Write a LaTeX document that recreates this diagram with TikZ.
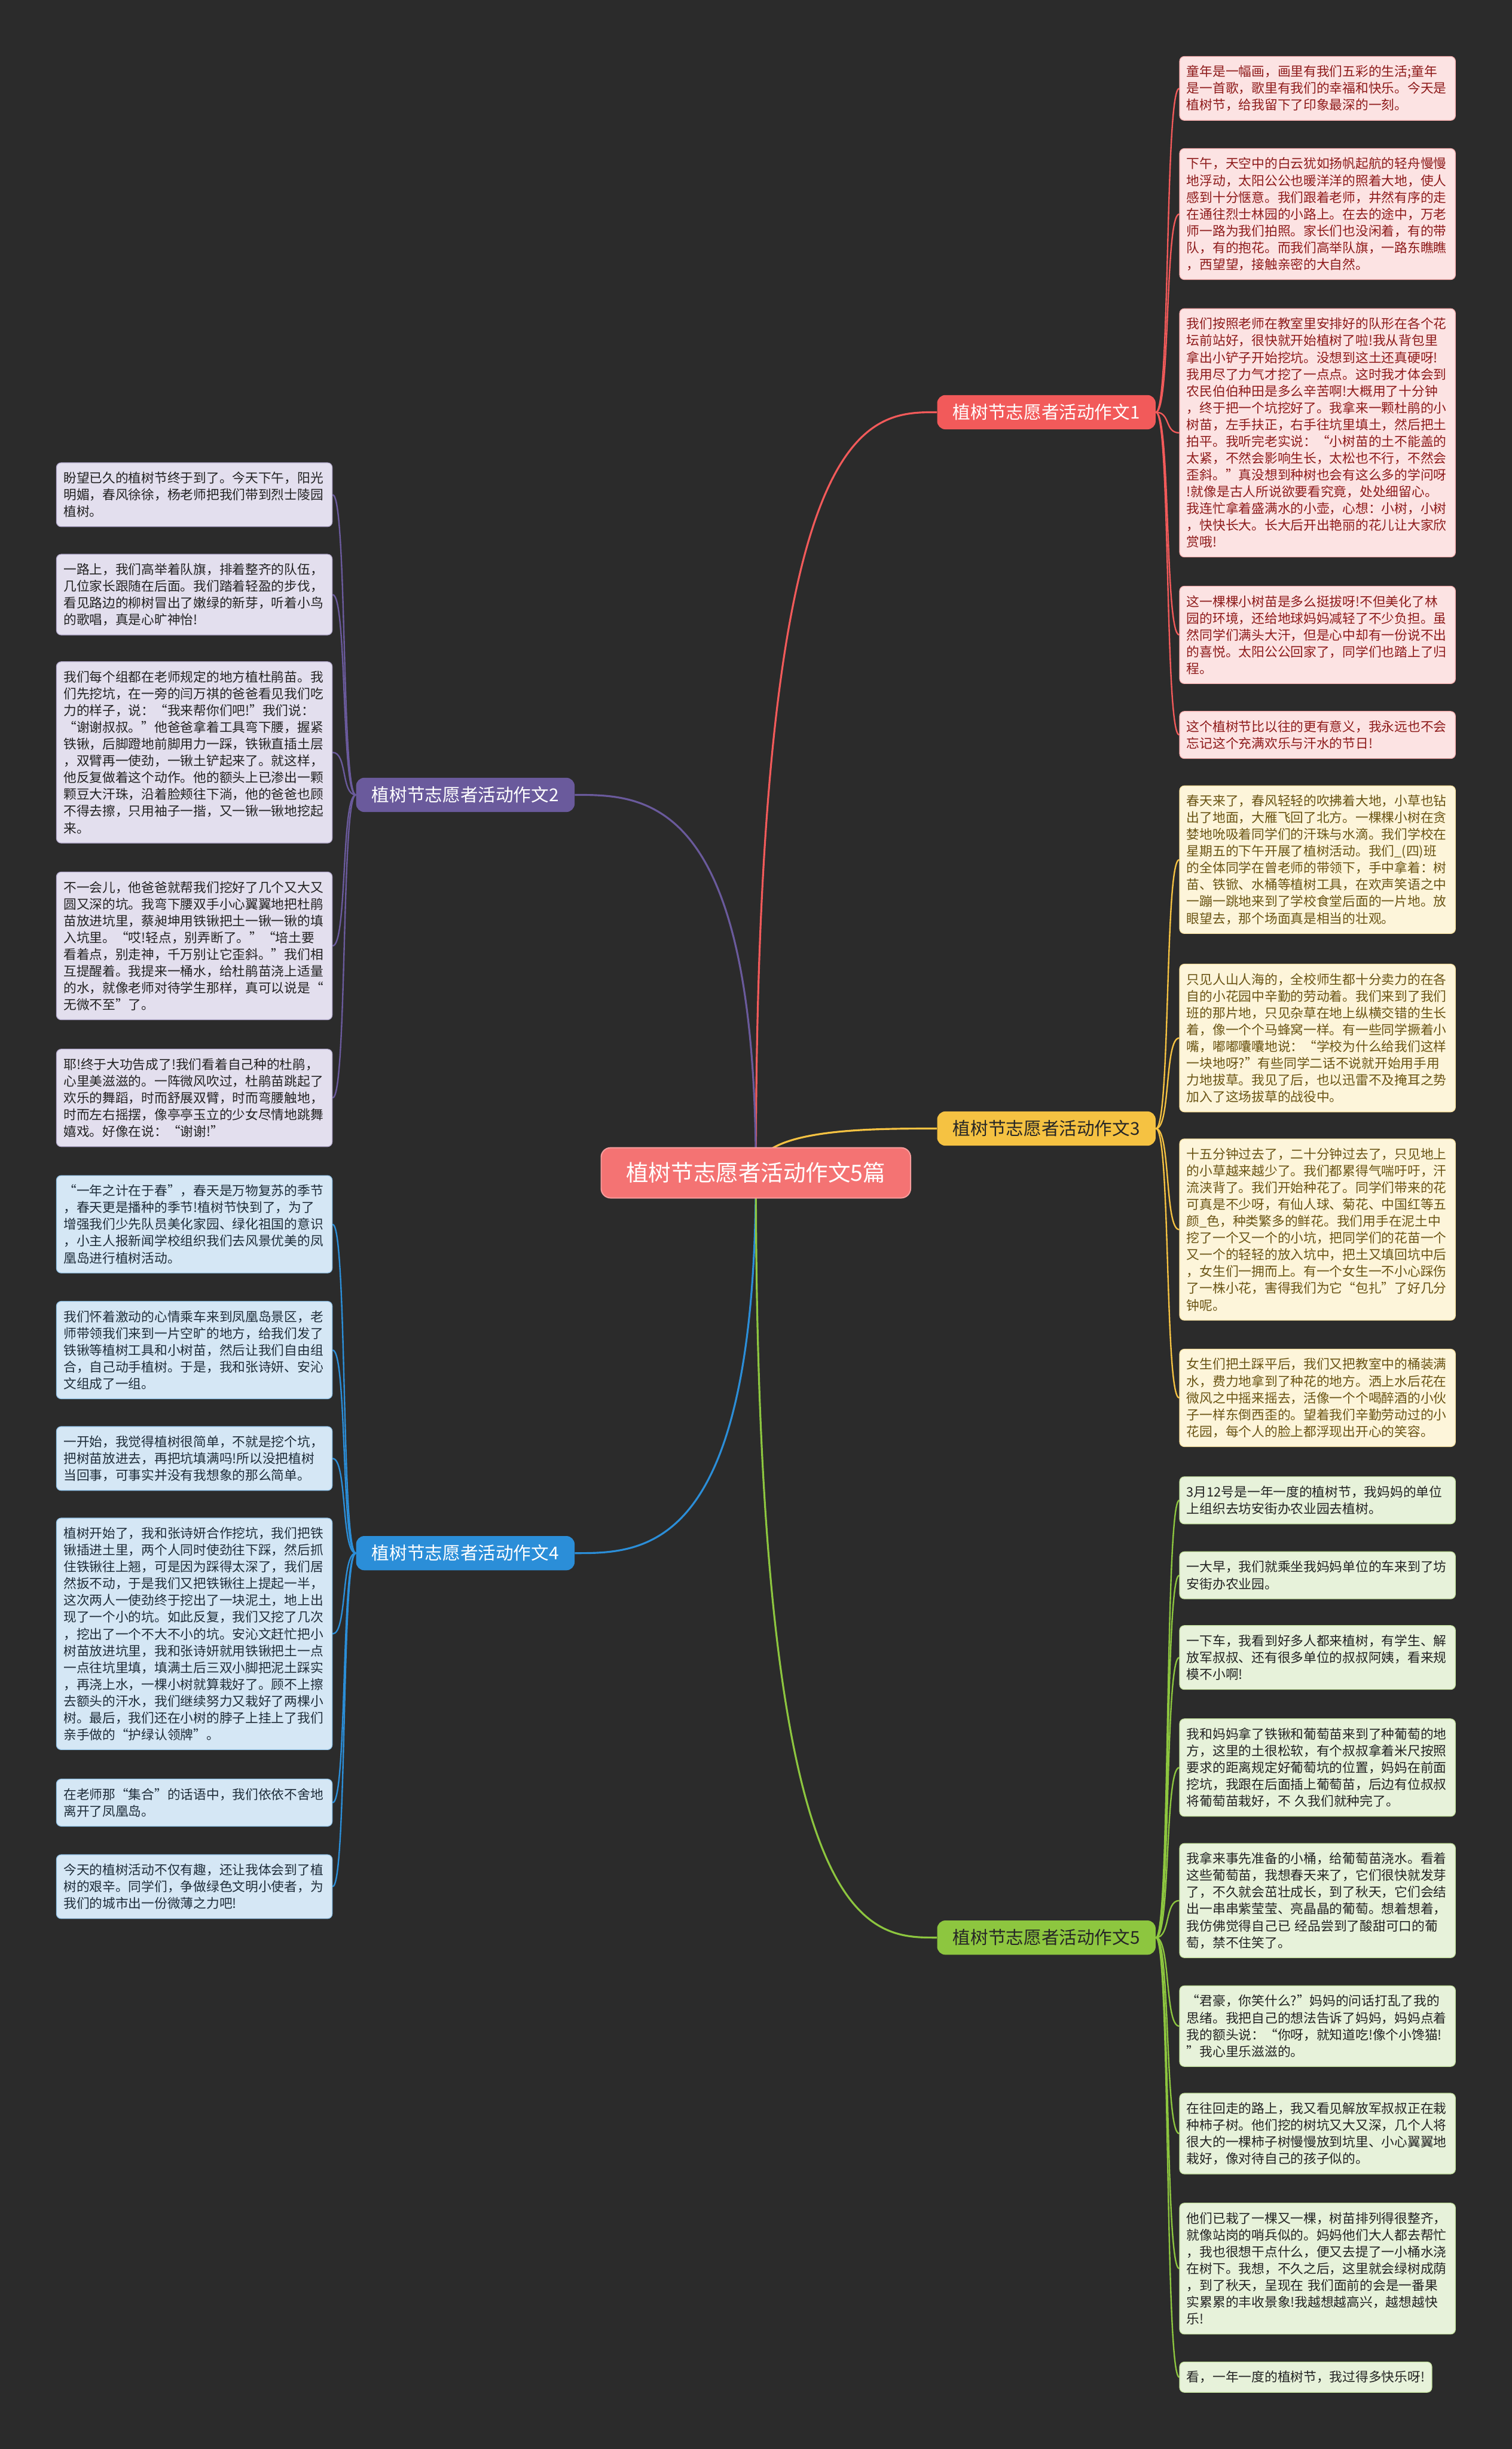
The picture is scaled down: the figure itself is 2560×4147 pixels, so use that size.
\documentclass[tikz,border=0pt]{standalone}
\usepackage{fontspec}
\newfontfamily\cjk{Noto Sans CJK SC}
\definecolor{bgc}{HTML}{2B2B2B}
\definecolor{c1}{HTML}{F25A5A}
\definecolor{c2}{HTML}{6A5A9C}
\definecolor{c3}{HTML}{F5C242}
\definecolor{c4}{HTML}{2B8ED8}
\definecolor{c5}{HTML}{8DC63F}
\definecolor{f1}{HTML}{FCE3E3}
\definecolor{f2}{HTML}{E3DFEE}
\definecolor{f3}{HTML}{FDF5DA}
\definecolor{f4}{HTML}{D5E7F5}
\definecolor{f5}{HTML}{E7F2DA}
\definecolor{t1}{HTML}{8E1B1B}
\definecolor{t2}{HTML}{222222}
\definecolor{t3}{HTML}{6A5414}
\definecolor{t4}{HTML}{1F2D3A}
\definecolor{t5}{HTML}{222222}
\pgfdeclarelayer{bglayer}
\pgfdeclarelayer{edgelayer}
\pgfsetlayers{bglayer,edgelayer,main}
\begin{document}
\begin{tikzpicture}[x=0.5pt,y=-0.5pt,
  leafbase/.style={rounded corners=4pt, line width=0.6pt, font=\cjk\fontsize{11}{14.2}\selectfont, align=left, inner xsep=6pt, inner ysep=0pt, anchor=north west},
  leaf/.style={leafbase, text width=221.5pt},
  la/.style={leaf, fill=f1, draw=c1!40!f1, text=t1, minimum height={#1*14.2pt+11.5pt}},
  lb/.style={leaf, fill=f2, draw=c2!40!f2, text=t2, minimum height={#1*14.2pt+11.5pt}},
  lc/.style={leaf, fill=f3, draw=c3!40!f3, text=t3, minimum height={#1*14.2pt+11.5pt}},
  ld/.style={leaf, fill=f4, draw=c4!40!f4, text=t4, minimum height={#1*14.2pt+11.5pt}},
  le/.style={leaf, fill=f5, draw=c5!40!f5, text=t5, minimum height={#1*14.2pt+11.5pt}},
  lenat/.style={leafbase, fill=f5, draw=c5!40!f5, text=t5, minimum height={#1*14.2pt+11.5pt}},
  branch/.style={rounded corners=7pt, minimum width=185pt, minimum height=29pt, inner sep=0pt, font=\cjk\fontsize{15}{17}\selectfont},
  mainline/.style={line width=1.6pt},
  leafline/.style={line width=1.2pt}
]
\begin{pgfonlayer}{bglayer}
\fill[bgc] (0,0) rectangle (2560,4147);
\end{pgfonlayer}
\useasboundingbox (0,0) rectangle (2560,4147);

% center
\node[rounded corners=8pt, minimum width=262pt, minimum height=42.5pt, inner sep=0pt, fill=c1!85!white, draw=c1!60!white, line width=1pt, text=white, font=\cjk\fontsize{19}{21}\selectfont] (c) at (1280,1986) {植树节志愿者活动作文5篇};

% branches
\node[branch, fill=c1, text=white] (b1) at (1772,698) {植树节志愿者活动作文1};
\node[branch, fill=c2, text=white] (b2) at (788,1346) {植树节志愿者活动作文2};
\node[branch, fill=c3, text=black!85] (b3) at (1772,1911) {植树节志愿者活动作文3};
\node[branch, fill=c4, text=white] (b4) at (788,2630) {植树节志愿者活动作文4};
\node[branch, fill=c5, text=black!85] (b5) at (1772,3281) {植树节志愿者活动作文5};

% branch 1 leaves
\node[la=3] (a1) at (1997,95) {童年是一幅画，画里有我们五彩的生活;童年\\是一首歌，歌里有我们的幸福和快乐。今天是\\植树节，给我留下了印象最深的一刻。};
\node[la=7] (a2) at (1997,251) {下午，天空中的白云犹如扬帆起航的轻舟慢慢\\地浮动，太阳公公也暖洋洋的照着大地，使人\\感到十分惬意。我们跟着老师，井然有序的走\\在通往烈士林园的小路上。在去的途中，万老\\师一路为我们拍照。家长们也没闲着，有的带\\队，有的抱花。而我们高举队旗，一路东瞧瞧\\，西望望，接触亲密的大自然。};
\node[la=14] (a3) at (1997,522) {我们按照老师在教室里安排好的队形在各个花\\坛前站好，很快就开始植树了啦!我从背包里\\拿出小铲子开始挖坑。没想到这土还真硬呀!\\我用尽了力气才挖了一点点。这时我才体会到\\农民伯伯种田是多么辛苦啊!大概用了十分钟\\，终于把一个坑挖好了。我拿来一颗杜鹃的小\\树苗，左手扶正，右手往坑里填土，然后把土\\拍平。我听完老实说：“小树苗的土不能盖的\\太紧，不然会影响生长，太松也不行，不然会\\歪斜。”真没想到种树也会有这么多的学问呀\\!就像是古人所说欲要看究竟，处处细留心。\\我连忙拿着盛满水的小壶，心想：小树，小树\\，快快长大。长大后开出艳丽的花儿让大家欣\\赏哦!};
\node[la=5] (a4) at (1997,992) {这一棵棵小树苗是多么挺拔呀!不但美化了林\\园的环境，还给地球妈妈减轻了不少负担。虽\\然同学们满头大汗，但是心中却有一份说不出\\的喜悦。太阳公公回家了，同学们也踏上了归\\程。};
\node[la=2] (a5) at (1997,1204) {这个植树节比以往的更有意义，我永远也不会\\忘记这个充满欢乐与汗水的节日!};

% branch 3 leaves
\node[lc=8] (g1) at (1997,1330) {春天来了，春风轻轻的吹拂着大地，小草也钻\\出了地面，大雁飞回了北方。一棵棵小树在贪\\婪地吮吸着同学们的汗珠与水滴。我们学校在\\星期五的下午开展了植树活动。我们\_(四)班\\的全体同学在曾老师的带领下，手中拿着：树\\苗、铁锨、水桶等植树工具，在欢声笑语之中\\一蹦一跳地来到了学校食堂后面的一片地。放\\眼望去，那个场面真是相当的壮观。};
\node[lc=8] (g2) at (1997,1632) {只见人山人海的，全校师生都十分卖力的在各\\自的小花园中辛勤的劳动着。我们来到了我们\\班的那片地，只见杂草在地上纵横交错的生长\\着，像一个个马蜂窝一样。有一些同学撅着小\\嘴，嘟嘟囔囔地说：“学校为什么给我们这样\\一块地呀?”有些同学二话不说就开始用手用\\力地拔草。我见了后，也以迅雷不及掩耳之势\\加入了这场拔草的战役中。};
\node[lc=10] (g3) at (1997,1928) {十五分钟过去了，二十分钟过去了，只见地上\\的小草越来越少了。我们都累得气喘吁吁，汗\\流浃背了。我们开始种花了。同学们带来的花\\可真是不少呀，有仙人球、菊花、中国红等五\\颜\_色，种类繁多的鲜花。我们用手在泥土中\\挖了一个又一个的小坑，把同学们的花苗一个\\又一个的轻轻的放入坑中，把土又填回坑中后\\，女生们一拥而上。有一个女生一不小心踩伤\\了一株小花，害得我们为它“包扎”了好几分\\钟呢。};
\node[lc=5] (g4) at (1997,2284) {女生们把土踩平后，我们又把教室中的桶装满\\水，费力地拿到了种花的地方。洒上水后花在\\微风之中摇来摇去，活像一个个喝醉酒的小伙\\子一样东倒西歪的。望着我们辛勤劳动过的小\\花园，每个人的脸上都浮现出开心的笑容。};

% branch 5 leaves
\node[le=2] (e1) at (1997,2500) {3月12号是一年一度的植树节，我妈妈的单位\\上组织去坊安街办农业园去植树。};
\node[le=2] (e2) at (1997,2627) {一大早，我们就乘坐我妈妈单位的车来到了坊\\安街办农业园。};
\node[le=3] (e3) at (1997,2752) {一下车，我看到好多人都来植树，有学生、解\\放军叔叔、还有很多单位的叔叔阿姨，看来规\\模不小啊!};
\node[le=5] (e4) at (1997,2910) {我和妈妈拿了铁锹和葡萄苗来到了种葡萄的地\\方，这里的土很松软，有个叔叔拿着米尺按照\\要求的距离规定好葡萄坑的位置，妈妈在前面\\挖坑，我跟在后面插上葡萄苗，后边有位叔叔\\将葡萄苗栽好，不 久我们就种完了。};
\node[le=6] (e5) at (1997,3121) {我拿来事先准备的小桶，给葡萄苗浇水。看着\\这些葡萄苗，我想春天来了，它们很快就发芽\\了，不久就会茁壮成长，到了秋天，它们会结\\出一串串紫莹莹、亮晶晶的葡萄。想着想着，\\我仿佛觉得自己已 经品尝到了酸甜可口的葡\\萄，禁不住笑了。};
\node[le=4] (e6) at (1997,3362) {“君豪，你笑什么?”妈妈的问话打乱了我的\\思绪。我把自己的想法告诉了妈妈，妈妈点着\\我的额头说：“你呀，就知道吃!像个小馋猫!\\”我心里乐滋滋的。};
\node[le=4] (e7) at (1997,3544) {在往回走的路上，我又看见解放军叔叔正在栽\\种柿子树。他们挖的树坑又大又深，几个人将\\很大的一棵柿子树慢慢放到坑里、小心翼翼地\\栽好，像对待自己的孩子似的。};
\node[le=7] (e8) at (1997,3730) {他们已栽了一棵又一棵，树苗排列得很整齐，\\就像站岗的哨兵似的。妈妈他们大人都去帮忙\\，我也很想干点什么，便又去提了一小桶水浇\\在树下。我想，不久之后，这里就会绿树成荫\\，到了秋天，呈现在 我们面前的会是一番果\\实累累的丰收景象!我越想越高兴，越想越快\\乐!};
\node[lenat=1] (e9) at (1997,3999) {看，一年一度的植树节，我过得多快乐呀!};

% branch 2 leaves
\node[lb=3] (p1) at (95,783) {盼望已久的植树节终于到了。今天下午，阳光\\明媚，春风徐徐，杨老师把我们带到烈士陵园\\植树。};
\node[lb=4] (p2) at (95,938) {一路上，我们高举着队旗，排着整齐的队伍，\\几位家长跟随在后面。我们踏着轻盈的步伐，\\看见路边的柳树冒出了嫩绿的新芽，听着小鸟\\的歌唱，真是心旷神怡!};
\node[lb=10] (p3) at (95,1120) {我们每个组都在老师规定的地方植杜鹃苗。我\\们先挖坑，在一旁的闫万祺的爸爸看见我们吃\\力的样子，说：“我来帮你们吧!”我们说：\\“谢谢叔叔。”他爸爸拿着工具弯下腰，握紧\\铁锹，后脚蹬地前脚用力一踩，铁锹直插土层\\，双臂再一使劲，一锹土铲起来了。就这样，\\他反复做着这个动作。他的额头上已渗出一颗\\颗豆大汗珠，沿着脸颊往下淌，他的爸爸也顾\\不得去擦，只用袖子一揩，又一锹一锹地挖起\\来。};
\node[lb=8] (p4) at (95,1476) {不一会儿，他爸爸就帮我们挖好了几个又大又\\圆又深的坑。我弯下腰双手小心翼翼地把杜鹃\\苗放进坑里，蔡昶坤用铁锹把土一锹一锹的填\\入坑里。“哎!轻点，别弄断了。”“培土要\\看着点，别走神，千万别让它歪斜。”我们相\\互提醒着。我提来一桶水，给杜鹃苗浇上适量\\的水，就像老师对待学生那样，真可以说是“\\无微不至”了。};
\node[lb=5] (p5) at (95,1776) {耶!终于大功告成了!我们看着自己种的杜鹃，\\心里美滋滋的。一阵微风吹过，杜鹃苗跳起了\\欢乐的舞蹈，时而舒展双臂，时而弯腰触地，\\时而左右摇摆，像亭亭玉立的少女尽情地跳舞\\嬉戏。好像在说：“谢谢!”};

% branch 4 leaves
\node[ld=5] (q1) at (95,1990) {“一年之计在于春”，春天是万物复苏的季节\\，春天更是播种的季节!植树节快到了，为了\\增强我们少先队员美化家园、绿化祖国的意识\\，小主人报新闻学校组织我们去风景优美的凤\\凰岛进行植树活动。};
\node[ld=5] (q2) at (95,2203) {我们怀着激动的心情乘车来到凤凰岛景区，老\\师带领我们来到一片空旷的地方，给我们发了\\铁锹等植树工具和小树苗，然后让我们自由组\\合，自己动手植树。于是，我和张诗妍、安沁\\文组成了一组。};
\node[ld=3] (q3) at (95,2415) {一开始，我觉得植树很简单，不就是挖个坑，\\把树苗放进去，再把坑填满吗!所以没把植树\\当回事，可事实并没有我想象的那么简单。};
\node[ld=13] (q4) at (95,2570) {植树开始了，我和张诗妍合作挖坑，我们把铁\\锹插进土里，两个人同时使劲往下踩，然后抓\\住铁锹往上翘，可是因为踩得太深了，我们居\\然扳不动，于是我们又把铁锹往上提起一半，\\这次两人一使劲终于挖出了一块泥土，地上出\\现了一个小的坑。如此反复，我们又挖了几次\\，挖出了一个不大不小的坑。安沁文赶忙把小\\树苗放进坑里，我和张诗妍就用铁锹把土一点\\一点往坑里填，填满土后三双小脚把泥土踩实\\，再浇上水，一棵小树就算栽好了。顾不上擦\\去额头的汗水，我们继续努力又栽好了两棵小\\树。最后，我们还在小树的脖子上挂上了我们\\亲手做的“护绿认领牌”。};
\node[ld=2] (q5) at (95,3012) {在老师那“集合”的话语中，我们依依不舍地\\离开了凤凰岛。};
\node[ld=3] (q6) at (95,3140) {今天的植树活动不仅有趣，还让我体会到了植\\树的艰辛。同学们，争做绿色文明小使者，为\\我们的城市出一份微薄之力吧!};

\begin{pgfonlayer}{edgelayer}
% main connectors
\draw[mainline, c1] (c.center) .. controls (c.center |- b1.west) and ([xshift=-60pt]b1.west) .. (b1.west);
\draw[mainline, c2] (c.center) .. controls (c.center |- b2.east) and ([xshift=60pt]b2.east) .. (b2.east);
\draw[mainline, c3] (c.center) .. controls (c.center |- b3.west) and ([xshift=-60pt]b3.west) .. (b3.west);
\draw[mainline, c4] (c.center) .. controls (c.center |- b4.east) and ([xshift=60pt]b4.east) .. (b4.east);
\draw[mainline, c5] (c.center) .. controls (c.center |- b5.west) and ([xshift=-60pt]b5.west) .. (b5.west);
% leaf connectors
\foreach \n in {a1,a2,a3,a4,a5}
  \draw[leafline, c1] (b1.east) .. controls +(25,0) and +(-25,0) .. (\n.west);
\foreach \n in {g1,g2,g3,g4}
  \draw[leafline, c3] (b3.east) .. controls +(25,0) and +(-25,0) .. (\n.west);
\foreach \n in {e1,e2,e3,e4,e5,e6,e7,e8,e9}
  \draw[leafline, c5] (b5.east) .. controls +(25,0) and +(-25,0) .. (\n.west);
\foreach \n in {p1,p2,p3,p4,p5}
  \draw[leafline, c2] (b2.west) .. controls +(-25,0) and +(25,0) .. (\n.east);
\foreach \n in {q1,q2,q3,q4,q5,q6}
  \draw[leafline, c4] (b4.west) .. controls +(-25,0) and +(25,0) .. (\n.east);
\end{pgfonlayer}
\end{tikzpicture}
\end{document}
